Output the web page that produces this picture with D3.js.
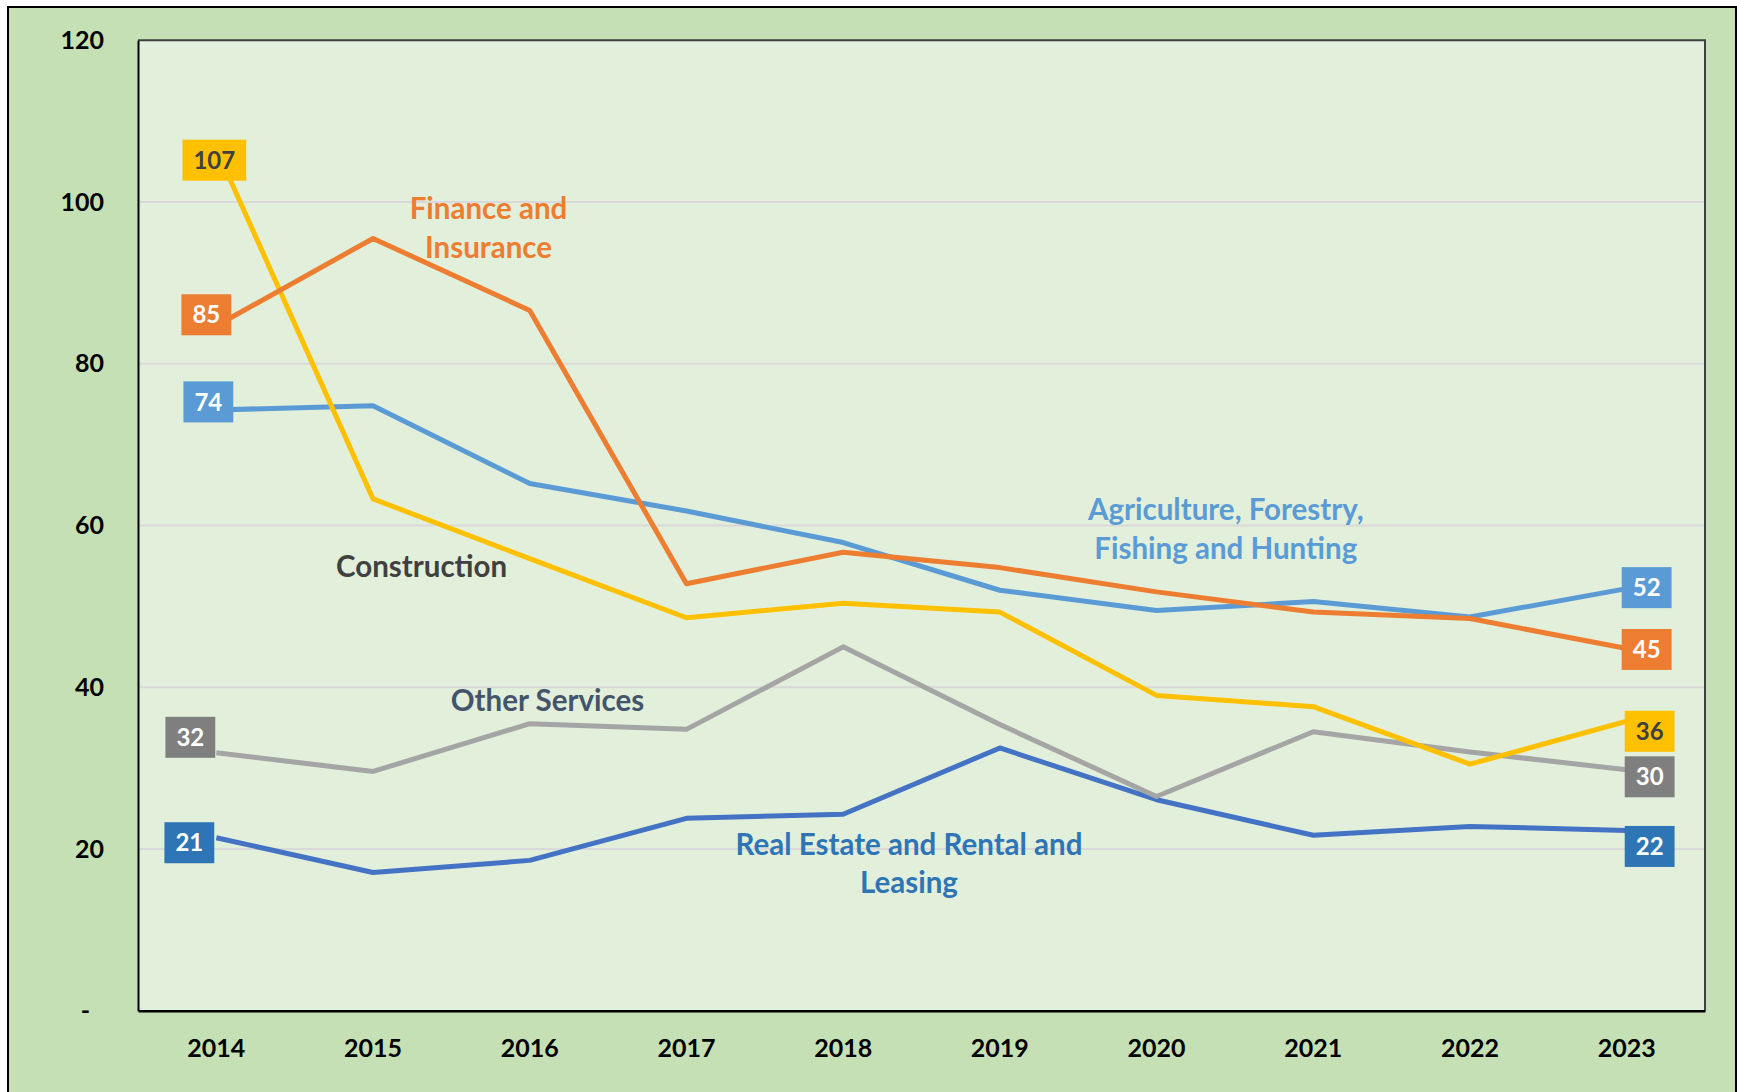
<!DOCTYPE html>
<html>
<head>
<meta charset="utf-8">
<script src="https://cdn.jsdelivr.net/npm/d3@7"></script>
<style>
  html, body { margin: 0; padding: 0; background: #ffffff; }
  svg { display: block; }
  text { font-family: Lato, "Open Sans", sans-serif; font-weight: bold; }
</style>
</head>
<body>
<svg id="chart" width="1737" height="1092"></svg>
<script>
// ---- data ----
const years = [2014, 2015, 2016, 2017, 2018, 2019, 2020, 2021, 2022, 2023];
const yTicks = [0, 20, 40, 60, 80, 100, 120];
const construction  = [106.6, 63.3, 55.9, 48.6, 50.4, 49.3, 39.0, 37.6, 30.5, 35.8];
const finance       = [84.7, 95.5, 86.6, 52.8, 56.7, 54.8, 51.8, 49.3, 48.5, 44.8];
const agriculture   = [74.3, 74.8, 65.2, 61.8, 57.9, 52.0, 49.5, 50.6, 48.7, 52.2];
const otherServices = [31.9, 29.6, 35.5, 34.8, 45.0, 35.4, 26.5, 34.5, 32.0, 29.8];
const realEstate    = [21.4, 17.1, 18.6, 23.8, 24.3, 32.5, 26.1, 21.7, 22.8, 22.3];
const seriesNames = ["Construction", "Finance and Insurance", "Agriculture, Forestry, Fishing and Hunting", "Other Services", "Real Estate and Rental and Leasing"];

// ---- styling / layout ----
const series = [
  { name: seriesNames[4], values: realEstate,    color: "#4472C4", box: "#2E75B6", text: "#FFFFFF", off0: [-27, 5],   off1: [23, 16] },
  { name: seriesNames[3], values: otherServices, color: "#A5A5A5", box: "#7F7F7F", text: "#FFFFFF", off0: [-26, -15.5], off1: [23, 7] },
  { name: seriesNames[2], values: agriculture,   color: "#5B9BD5", box: "#5B9BD5", text: "#FFFFFF", off0: [-8, -8],   off1: [20, -1] },
  { name: seriesNames[0], values: construction,  color: "#FFC000", box: "#FFC000", text: "#404040", off0: [-2, 11.5], off1: [23, 10] },
  { name: seriesNames[1], values: finance,       color: "#ED7D31", box: "#ED7D31", text: "#FFFFFF", off0: [-10, -11], off1: [20, 1] }
];
const annotations = [
  { lines: ["Finance and", "Insurance"], i: 1.737, v: 97.9, color: "#ED7D31", lh: 39 },
  { lines: ["Construction"], i: 1.310, v: 53.7, color: "#404040", lh: 39 },
  { lines: ["Other Services"], i: 2.113, v: 37.1, color: "#44546A", lh: 39 },
  { lines: ["Real Estate and Rental and", "Leasing"], i: 4.420, v: 19.26, color: "#2E75B6", lh: 38 },
  { lines: ["Agriculture, Forestry,", "Fishing and Hunting"], i: 6.442, v: 60.67, color: "#5B9BD5", lh: 39 }
];

const W = 1737, H = 1092;
const plot = { left: 138, right: 1705, top: 40.3, bottom: 1010.8 };

const svg = d3.select("#chart");

// outer chart area
svg.append("rect").attr("x", 8).attr("y", 7).attr("width", 1728).attr("height", 1200)
  .attr("fill", "#C5E0B4").attr("stroke", "#000").attr("stroke-width", 2);

// plot area
svg.append("rect").attr("x", plot.left).attr("y", plot.top)
  .attr("width", plot.right - plot.left).attr("height", plot.bottom - plot.top)
  .attr("fill", "#E2EFDA");

const x = d3.scaleBand().domain(years).range([plot.left, plot.right]).padding(0);
const xc = d => x(d) + x.bandwidth() / 2;
const xi = d3.scaleLinear().domain([-0.5, years.length - 0.5]).range([plot.left, plot.right]);
const y = d3.scaleLinear().domain([0, 120]).range([plot.bottom, plot.top]);

// gridlines
svg.append("g").selectAll("line").data(yTicks.filter(t => t > 0 && t < 120)).join("line")
  .attr("x1", plot.left).attr("x2", plot.right)
  .attr("y1", d => y(d)).attr("y2", d => y(d))
  .attr("stroke", "#D9D9D9").attr("stroke-width", 2);

// top & right borders of plot
svg.append("path")
  .attr("d", `M${plot.left},${plot.top}H${plot.right}V${plot.bottom}`)
  .attr("fill", "none").attr("stroke", "#404040").attr("stroke-width", 2);

// axes
const yAxis = d3.axisLeft(y).tickValues(yTicks).tickSize(0).tickPadding(34)
  .tickFormat(d => d === 0 ? "-" : d);
const gy = svg.append("g").attr("transform", `translate(${plot.left},0)`).call(yAxis);
gy.select(".domain").attr("stroke", "#000").attr("stroke-width", 2);
gy.selectAll("text").attr("font-size", 25).attr("fill", "#000")
  .style("font-family", "Lato, 'Open Sans', sans-serif").style("font-weight", "bold");
gy.selectAll(".tick").filter(d => d === 0).select("text").attr("dx", -14);

const xAxis = d3.axisBottom(x).tickSize(0).tickPadding(28.5);
const gx = svg.append("g").attr("transform", `translate(0,${plot.bottom})`).call(xAxis);
gx.select(".domain").attr("stroke", "#000").attr("stroke-width", 2.5);
gx.selectAll("text").attr("font-size", 25).attr("fill", "#000")
  .style("font-family", "Lato, 'Open Sans', sans-serif").style("font-weight", "bold");

// lines
const line = d3.line().x((d, i) => xc(years[i])).y(d => y(d));
svg.append("g").selectAll("path").data(series).join("path")
  .attr("d", s => line(s.values))
  .attr("fill", "none").attr("stroke", s => s.color).attr("stroke-width", 5)
  .attr("stroke-linejoin", "round");

// data label boxes at first and last point
const labels = [];
series.forEach(s => {
  labels.push({ s, i: 0, off: s.off0 });
  labels.push({ s, i: years.length - 1, off: s.off1 });
});
const lg = svg.append("g");
labels.forEach(l => {
  const cx = xc(years[l.i]) + l.off[0];
  const cy = y(l.s.values[l.i]) + l.off[1];
  const g = lg.append("g");
  const t = g.append("text").attr("x", cx).attr("y", cy + 24 * 0.36)
    .attr("text-anchor", "middle").attr("font-size", 24).attr("fill", l.s.text)
    .text(Math.round(l.s.values[l.i]));
  const tw = t.node().getComputedTextLength();
  g.insert("rect", "text").attr("x", cx - (tw + 22) / 2).attr("y", cy - 20.5)
    .attr("width", tw + 22).attr("height", 41).attr("fill", l.s.box);
});

// series annotations
annotations.forEach(a => {
  const t = svg.append("text").attr("text-anchor", "middle")
    .attr("font-size", 29.5).attr("fill", a.color);
  a.lines.forEach((ln, k) => {
    t.append("tspan").attr("x", xi(a.i)).attr("y", y(a.v) + k * a.lh).text(ln);
  });
});
</script>
</body>
</html>
